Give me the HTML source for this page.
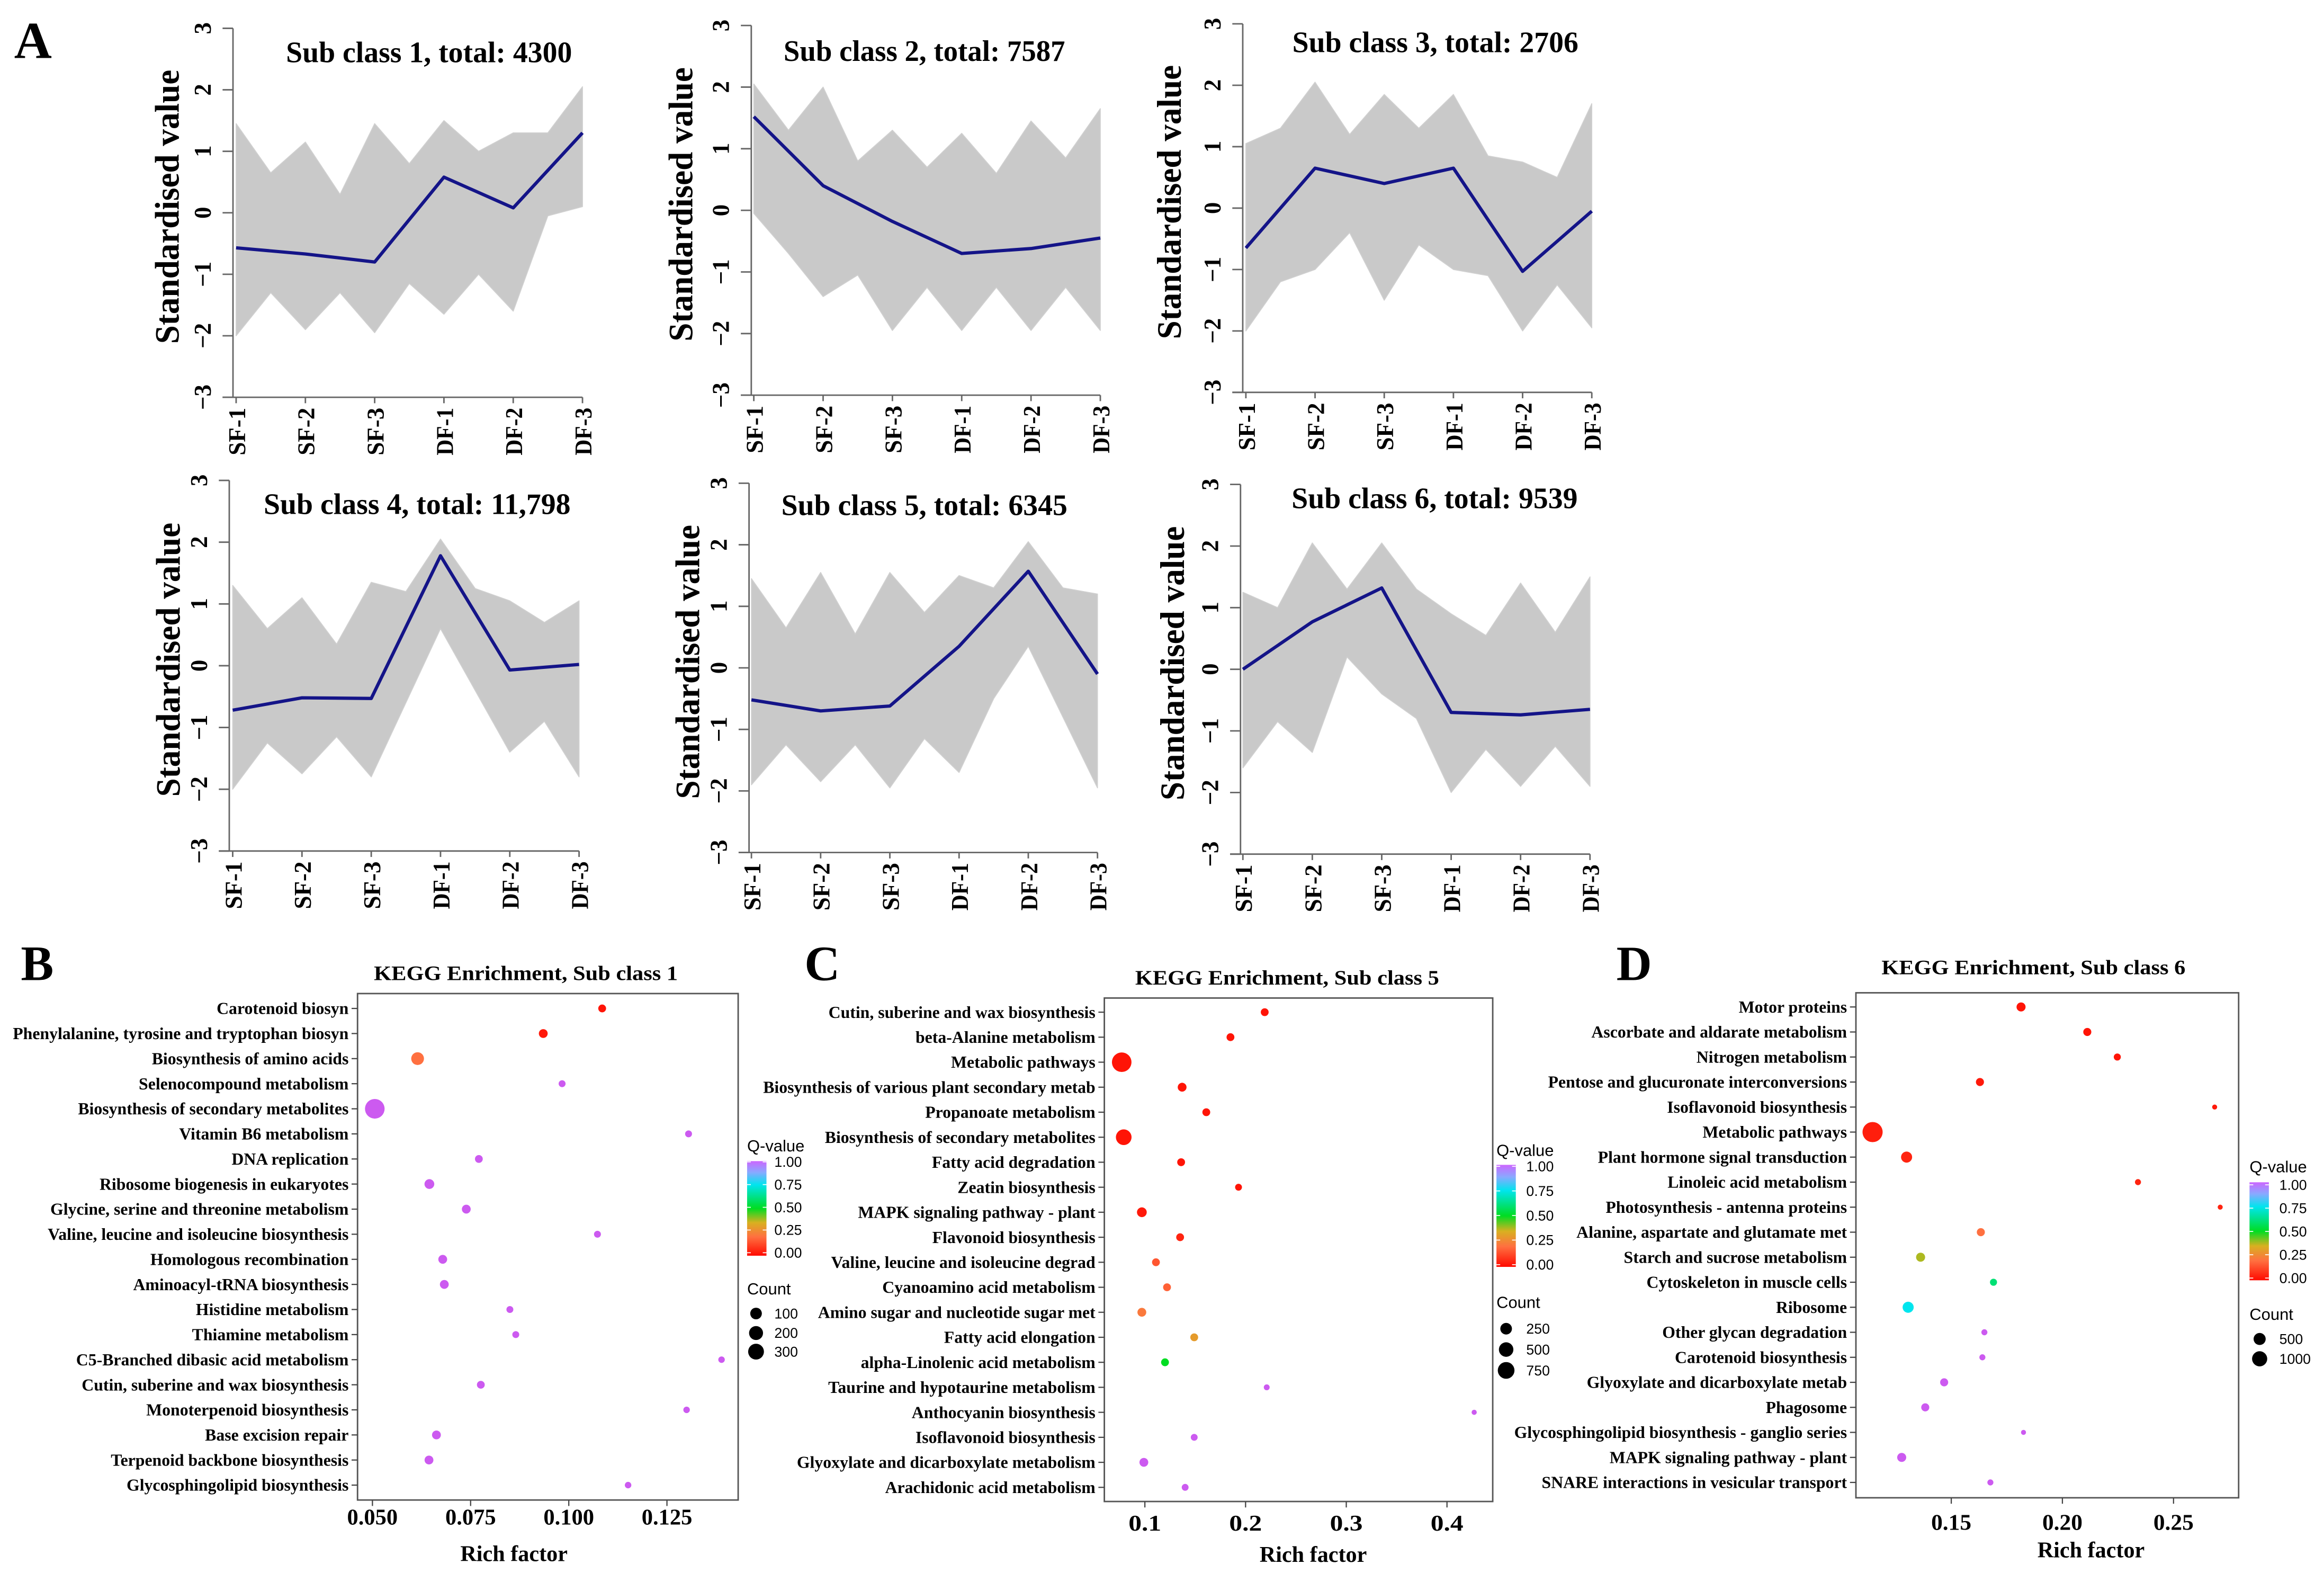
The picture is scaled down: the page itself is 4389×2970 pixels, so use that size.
<!DOCTYPE html>
<html><head><meta charset="utf-8">
<style>
html,body{margin:0;padding:0;background:#fff;}
svg{display:block;}
text{font-family:"Liberation Serif",serif;font-weight:bold;fill:#000;}
.sans{font-family:"Liberation Sans",sans-serif;font-weight:normal;}
</style></head>
<body>
<svg id="fig" xmlns="http://www.w3.org/2000/svg" width="4389" height="2970" viewBox="0 0 1560 1056" preserveAspectRatio="none">
<defs>
<linearGradient id="qgrad" x1="0" y1="0" x2="0" y2="1">
<stop offset="0" stop-color="#cc66ff"/><stop offset="0.12" stop-color="#88aaff"/><stop offset="0.25" stop-color="#00e5ee"/><stop offset="0.5" stop-color="#00dd22"/><stop offset="0.65" stop-color="#d8b020"/><stop offset="0.8" stop-color="#ff7040"/><stop offset="1" stop-color="#ff0a00"/>
</linearGradient>
</defs>
<text x="9.5" y="39" font-size="35">A</text>
<text x="14" y="658" font-size="33">B</text>
<text x="540" y="658" font-size="33">C</text>
<text x="1085" y="658" font-size="33">D</text>
</svg>
<script>
// ---------- Panel A data ----------
const timepoints = ["SF-1","SF-2","SF-3","DF-1","DF-2","DF-3"];
const yTickValues = [-3,-2,-1,0,1,2,3];
const titlesA = ["Sub class 1, total: 4300","Sub class 2, total: 7587","Sub class 3, total: 2706","Sub class 4, total: 11,798","Sub class 5, total: 6345","Sub class 6, total: 9539"];
const meanSC1 = [-0.57,-0.67,-0.8,0.58,0.08,1.3];
const meanSC2 = [1.52,0.4,-0.18,-0.7,-0.62,-0.45];
const meanSC3 = [-0.65,0.65,0.4,0.65,-1.03,-0.05];
const meanSC4 = [-0.72,-0.52,-0.53,1.78,-0.07,0.02];
const meanSC5 = [-0.52,-0.7,-0.62,0.35,1.57,-0.1];
const meanSC6 = [0,0.77,1.32,-0.7,-0.74,-0.65];
// envelope: value at each timepoint and each midpoint (11 values)
const upperSC1 = [1.45,0.65,1.15,0.3,1.45,0.8,1.5,1.0,1.3,1.3,2.05];
const lowerSC1 = [-2.0,-1.3,-1.9,-1.3,-1.95,-1.15,-1.65,-1.0,-1.6,-0.05,0.1];
const upperSC2 = [2.05,1.3,2.0,0.8,1.3,0.7,1.25,0.6,1.45,0.85,1.65];
const lowerSC2 = [-0.05,-0.7,-1.4,-1.05,-1.95,-1.25,-1.95,-1.25,-1.95,-1.25,-1.95];
const upperSC3 = [1.05,1.3,2.05,1.2,1.85,1.3,1.85,0.85,0.75,0.5,1.7];
const lowerSC3 = [-2.0,-1.2,-1.0,-0.4,-1.5,-0.6,-1.0,-1.1,-2.0,-1.25,-1.95];
const upperSC4 = [1.3,0.6,1.1,0.35,1.35,1.2,2.05,1.25,1.05,0.7,1.05];
const lowerSC4 = [-2.0,-1.25,-1.75,-1.15,-1.8,-0.6,0.6,-0.4,-1.4,-0.9,-1.8];
const upperSC5 = [1.45,0.65,1.55,0.55,1.55,0.9,1.5,1.3,2.05,1.3,1.2];
const lowerSC5 = [-1.9,-1.25,-1.85,-1.25,-1.95,-1.15,-1.7,-0.5,0.35,-0.8,-1.95];
const upperSC6 = [1.25,1.0,2.05,1.3,2.05,1.3,0.9,0.55,1.4,0.6,1.5];
const lowerSC6 = [-1.6,-0.85,-1.35,0.2,-0.4,-0.8,-2.0,-1.3,-1.9,-1.25,-1.9];

// ---------- Panel B data ----------
const catsB = ["Carotenoid biosyn","Phenylalanine, tyrosine and tryptophan biosyn","Biosynthesis of amino acids","Selenocompound metabolism","Biosynthesis of secondary metabolites","Vitamin B6 metabolism","DNA replication","Ribosome biogenesis in eukaryotes","Glycine, serine and threonine metabolism","Valine, leucine and isoleucine biosynthesis","Homologous recombination","Aminoacyl-tRNA biosynthesis","Histidine metabolism","Thiamine metabolism","C5-Branched dibasic acid metabolism","Cutin, suberine and wax biosynthesis","Monoterpenoid biosynthesis","Base excision repair","Terpenoid backbone biosynthesis","Glycosphingolipid biosynthesis"];
const richB = [0.1085,0.0935,0.0615,0.0983,0.0506,0.1305,0.0771,0.0645,0.0739,0.1073,0.0679,0.0683,0.085,0.0865,0.1389,0.0776,0.130,0.0663,0.0644,0.1151];
const countB = [11,26,144,3,580,3,11,46,26,3,26,26,3,3,1,11,1,26,26,1];
const qB = [0.02,0.03,0.2,1,1,1,1,1,1,1,1,1,1,1,1,1,1,1,1,1];
const ticksB = [0.05,0.075,0.1,0.125];
const tickLabelsB = ["0.050","0.075","0.100","0.125"];
const legendCountsB = [100,200,300];

// ---------- Panel C data ----------
const catsC = ["Cutin, suberine and wax biosynthesis","beta-Alanine metabolism","Metabolic pathways","Biosynthesis of various plant secondary metab","Propanoate metabolism","Biosynthesis of secondary metabolites","Fatty acid degradation","Zeatin biosynthesis","MAPK signaling pathway - plant","Flavonoid biosynthesis","Valine, leucine and isoleucine degrad","Cyanoamino acid metabolism","Amino sugar and nucleotide sugar met","Fatty acid elongation","alpha-Linolenic acid metabolism","Taurine and hypotaurine metabolism","Anthocyanin biosynthesis","Isoflavonoid biosynthesis","Glyoxylate and dicarboxylate metabolism","Arachidonic acid metabolism"];
const richC = [0.219,0.185,0.077,0.137,0.161,0.079,0.136,0.193,0.097,0.135,0.111,0.122,0.097,0.149,0.120,0.221,0.427,0.149,0.099,0.140];
const countC = [51,51,1150,88,51,625,51,24,135,51,51,51,88,51,51,7,1,24,88,24];
const qC = [0.02,0.02,0.02,0.02,0.02,0.02,0.02,0.02,0.03,0.05,0.15,0.17,0.22,0.3,0.5,1,1,1,1,1];
const ticksC = [0.1,0.2,0.3,0.4];
const tickLabelsC = ["0.1","0.2","0.3","0.4"];
const legendCountsC = [250,500,750];

// ---------- Panel D data ----------
const catsD = ["Motor proteins","Ascorbate and aldarate metabolism","Nitrogen metabolism","Pentose and glucuronate interconversions","Isoflavonoid biosynthesis","Metabolic pathways","Plant hormone signal transduction","Linoleic acid metabolism","Photosynthesis - antenna proteins","Alanine, aspartate and glutamate met","Starch and sucrose metabolism","Cytoskeleton in muscle cells","Ribosome","Other glycan degradation","Carotenoid biosynthesis","Glyoxylate and dicarboxylate metab","Phagosome","Glycosphingolipid biosynthesis - ganglio series","MAPK signaling pathway - plant","SNARE interactions in vesicular transport"];
const richD = [0.1814,0.2112,0.2247,0.1629,0.2685,0.1146,0.1299,0.2340,0.2710,0.1633,0.1362,0.1690,0.1306,0.1649,0.1640,0.1468,0.1383,0.1825,0.1277,0.1676];
const countD = [175,104,52,104,1,2190,375,17,1,104,175,52,375,17,17,104,104,1,175,17];
const qD = [0.02,0.02,0.02,0.03,0.03,0.04,0.05,0.05,0.05,0.2,0.38,0.6,0.75,1,1,1,1,1,1,1];
const ticksD = [0.15,0.2,0.25];
const tickLabelsD = ["0.15","0.20","0.25"];
const legendCountsD = [500,1000];
const legendQTicks = [1,0.75,0.5,0.25,0];
const legendQLabels = ["1.00","0.75","0.50","0.25","0.00"];

const NS = "http://www.w3.org/2000/svg";
const svg = document.getElementById("fig");
function mk(tag, attrs, parent) {
  const e = document.createElementNS(NS, tag);
  for (const k in attrs) e.setAttribute(k, attrs[k]);
  (parent || svg).appendChild(e);
  return e;
}

// ---------- Panel A drawing ----------
const panelsA = [
  {ax:156.4,x0:158.5,x1:391,yT:19,yB:266.7,tcx:288,tby:41.8,tw:192,ylx:112,mean:meanSC1,up:upperSC1,lo:lowerSC1},
  {ax:504.3,x0:506,x1:738.6,yT:17.1,yB:265.3,tcx:620.5,tby:40.9,tw:189,ylx:456.7,mean:meanSC2,up:upperSC2,lo:lowerSC2},
  {ax:834.2,x0:836.3,x1:1068.5,yT:16,yB:263.4,tcx:963.5,tby:35.1,tw:192,ylx:784.6,mean:meanSC3,up:upperSC3,lo:lowerSC3},
  {ax:153.9,x0:156.2,x1:388.7,yT:322.5,yB:571.3,tcx:280,tby:345,tw:206,ylx:112.7,mean:meanSC4,up:upperSC4,lo:lowerSC4},
  {ax:502.8,x0:504.4,x1:736.7,yT:324.4,yB:572.3,tcx:620.5,tby:345.8,tw:192,ylx:461.3,mean:meanSC5,up:upperSC5,lo:lowerSC5},
  {ax:832.7,x0:834.3,x1:1067.3,yT:325.2,yB:573.4,tcx:963,tby:341.2,tw:192,ylx:786.8,mean:meanSC6,up:upperSC6,lo:lowerSC6}
];
panelsA.forEach((p, pi) => {
  const g = mk("g", {});
  
  
  const xs = i => p.x0 + (p.x1 - p.x0) * i / (timepoints.length - 1);
  const ys = v => p.yB - (v + 3) / 6 * (p.yB - p.yT);
  let d = "";
  p.up.forEach((v, k) => { d += (k ? "L" : "M") + xs(k / 2).toFixed(2) + "," + ys(v).toFixed(2); });
  for (let k = p.lo.length - 1; k >= 0; k--) d += "L" + xs(k / 2).toFixed(2) + "," + ys(p.lo[k]).toFixed(2);
  const env = mk("path", {d: d + "Z", fill: "#c9c9c9", stroke: "#d0d0d0", "stroke-width": 0.6, "stroke-linejoin": "round"}, g);
  
  
  const yAxis = mk("line", {x1: p.ax, y1: ys(3), x2: p.ax, y2: p.yB, stroke: "#666", "stroke-width": 1}, g);
  
  
  const xAxis = mk("line", {x1: p.ax - 7, y1: p.yB, x2: p.x1, y2: p.yB, stroke: "#666", "stroke-width": 1}, g);
  
  
  yTickValues.forEach(v => {
    mk("line", {x1: p.ax - 7, y1: ys(v), x2: p.ax, y2: ys(v), stroke: "#666", "stroke-width": 1}, g);
    const t = mk("text", {x: 0, y: 0, "font-size": 16, "text-anchor": "middle", transform: "translate(" + (p.ax - 15) + "," + ys(v) + ") rotate(-90)"}, g);
    t.textContent = v < 0 ? "\u2212" + Math.abs(v) : String(v);
    
    
  });
  timepoints.forEach((lab, i) => {
    mk("line", {x1: xs(i), y1: p.yB, x2: xs(i), y2: p.yB + 4, stroke: "#666", "stroke-width": 1}, g);
    const t = mk("text", {x: 0, y: 0, "font-size": 16, "text-anchor": "end", textLength: 32, lengthAdjust: "spacingAndGlyphs", transform: "translate(" + (xs(i) + 6) + "," + (p.yB + 7) + ") rotate(-90)"}, g);
    t.textContent = lab;
    
    
  });
  const pts = p.mean.map((v, i) => xs(i).toFixed(2) + "," + ys(v).toFixed(2)).join(" ");
  const ml = mk("polyline", {points: pts, fill: "none", stroke: "#141488", "stroke-width": 2.2, "stroke-linejoin": "round"}, g);
  
  
  const tt = mk("text", {x: p.tcx, y: p.tby, "font-size": 20, "text-anchor": "middle", textLength: p.tw, lengthAdjust: "spacingAndGlyphs"}, g);
  tt.textContent = titlesA[pi];
  
  
  const yl = mk("text", {x: 0, y: 0, "font-size": 23, "text-anchor": "middle", textLength: 184, lengthAdjust: "spacingAndGlyphs", transform: "translate(" + (p.ylx + 8) + "," + ((p.yT + p.yB) / 2 - 4) + ") rotate(-90)"}, g);
  yl.textContent = "Standardised value";
  
  
});

// ---------- bubble charts ----------
const qStops = [[0,[255,10,0]],[0.2,[255,112,64]],[0.35,[216,176,32]],[0.5,[0,221,34]],[0.75,[0,229,238]],[0.88,[136,170,255]],[1,[204,90,240]]];
function qColor(q) {
  for (let i = 1; i < qStops.length; i++) {
    if (q <= qStops[i][0]) {
      const a = qStops[i - 1], b = qStops[i], t = (q - a[0]) / (b[0] - a[0]);
      const c = a[1].map((v, k) => Math.round(v + (b[1][k] - v) * t));
      return "rgb(" + c.join(",") + ")";
    }
  }
  return "rgb(204,90,240)";
}
const bubblePanels = [
  {id:"b", L:240, R:495.5, T:667, B:1007, row0:677, row1:997, xv0:0.05, xp0:250, xscale:2636, r0:1.99, rk:0.191,
   cats:catsB, rich:richB, count:countB, q:qB, ticks:ticksB, tlabels:tickLabelsB, tickBase:1023.5, tickW:34,
   title:"KEGG Enrichment, Sub class 1", tcx:353, tby:658, tw:204, rfx:345, rfy:1048,
   lgx:501.5, qTitleY:773, barT:779.5, barB:843, lab1:780, lab0:841, labX:519.8, cTitleY:869, dotX:507.5, dotY:[881.8,894.9,907.4], lcounts:legendCountsB},
  {id:"c", L:741.3, R:1002, T:670, B:1008, row0:679.5, row1:998.5, xv0:0.1, xp0:768.5, xscale:676, r0:1.58, rk:0.147,
   cats:catsC, rich:richC, count:countC, q:qC, ticks:ticksC, tlabels:tickLabelsC, tickBase:1027.5, tickW:22,
   title:"KEGG Enrichment, Sub class 5", tcx:864, tby:661, tw:204, rfx:881.5, rfy:1048.5,
   lgx:1004.5, qTitleY:776, barT:782, barB:850.5, lab1:783, lab0:849, labX:1024.5, cTitleY:878, dotX:1011, dotY:[892,906,920], lcounts:legendCountsC},
  {id:"d", L:1245.8, R:1502.7, T:666.5, B:1005.5, row0:676, row1:995.2, xv0:0.15, xp0:1309.8, xscale:1492, r0:1.57, rk:0.111,
   cats:catsD, rich:richD, count:countD, q:qD, ticks:ticksD, tlabels:tickLabelsD, tickBase:1027, tickW:27,
   title:"KEGG Enrichment, Sub class 6", tcx:1365, tby:654, tw:204, rfx:1403.6, rfy:1045.5,
   lgx:1510, qTitleY:787, barT:793.7, barB:859.5, lab1:795.4, lab0:858, labX:1530, cTitleY:886, dotX:1516.8, dotY:[898.9,912.2], lcounts:legendCountsD}
];
bubblePanels.forEach(p => {
  const g = mk("g", {});
  
  
  const xs = v => p.xp0 + (v - p.xv0) * p.xscale;
  const ys = i => p.row0 + (p.row1 - p.row0) * i / (p.cats.length - 1);
  const rs = c => p.r0 + p.rk * Math.sqrt(c);
  const box = mk("rect", {x: p.L, y: p.T, width: p.R - p.L, height: p.B - p.T, fill: "#fff", stroke: "#555", "stroke-width": 1}, g);
  
  
  p.cats.forEach((c, i) => {
    mk("line", {x1: p.L - 4, y1: ys(i), x2: p.L, y2: ys(i), stroke: "#444", "stroke-width": 0.8}, g);
    const t = mk("text", {x: p.L - 6, y: ys(i) + 3.8, "font-size": 11.3, "text-anchor": "end"}, g);
    t.textContent = c;
    
    
  });
  p.ticks.forEach((v, i) => {
    mk("line", {x1: xs(v), y1: p.B, x2: xs(v), y2: p.B + 4, stroke: "#444", "stroke-width": 0.8}, g);
    const t = mk("text", {x: xs(v), y: p.tickBase, "font-size": 15, "text-anchor": "middle", textLength: p.tickW, lengthAdjust: "spacingAndGlyphs"}, g);
    t.textContent = p.tlabels[i];
    
    
  });
  p.cats.forEach((c, i) => {
    const b = mk("circle", {cx: xs(p.rich[i]), cy: ys(i), r: rs(p.count[i]), fill: qColor(p.q[i])}, g);
    
    
  });
  const tt = mk("text", {x: p.tcx, y: p.tby, "font-size": 14, "text-anchor": "middle", textLength: p.tw, lengthAdjust: "spacingAndGlyphs"}, g);
  tt.textContent = p.title;
  
  
  const rf = mk("text", {x: p.rfx, y: p.rfy, "font-size": 15, "text-anchor": "middle", textLength: 72, lengthAdjust: "spacingAndGlyphs"}, g);
  rf.textContent = "Rich factor";
  
  
  const lg = mk("g", {}, g);
  
  
  const qt = mk("text", {x: p.lgx, y: p.qTitleY, "font-size": 11, "class": "sans"}, lg);
  qt.textContent = "Q-value";
  
  
  const bar = mk("rect", {x: p.lgx, y: p.barT, width: 13, height: p.barB - p.barT, fill: "url(#qgrad)"}, lg);
  
  
  legendQTicks.forEach((q, i) => {
    const y = p.lab0 + (p.lab1 - p.lab0) * q;
    mk("line", {x1: p.lgx, y1: y, x2: p.lgx + 2.5, y2: y, stroke: "#fff", "stroke-width": 0.6}, lg);
    mk("line", {x1: p.lgx + 10.5, y1: y, x2: p.lgx + 13, y2: y, stroke: "#fff", "stroke-width": 0.6}, lg);
    const t = mk("text", {x: p.labX, y: y + 3.3, "font-size": 9.5, "class": "sans"}, lg);
    t.textContent = legendQLabels[i];
    
    
  });
  const ct = mk("text", {x: p.lgx, y: p.cTitleY, "font-size": 11, "class": "sans"}, lg);
  ct.textContent = "Count";
  
  
  p.lcounts.forEach((c, i) => {
    const d = mk("circle", {cx: p.dotX, cy: p.dotY[i], r: rs(c), fill: "#000"}, lg);
    
    
    const t = mk("text", {x: p.labX, y: p.dotY[i] + 3.3, "font-size": 9.5, "class": "sans"}, lg);
    t.textContent = String(c);
    
    
  });
});
</script>
</body></html>
